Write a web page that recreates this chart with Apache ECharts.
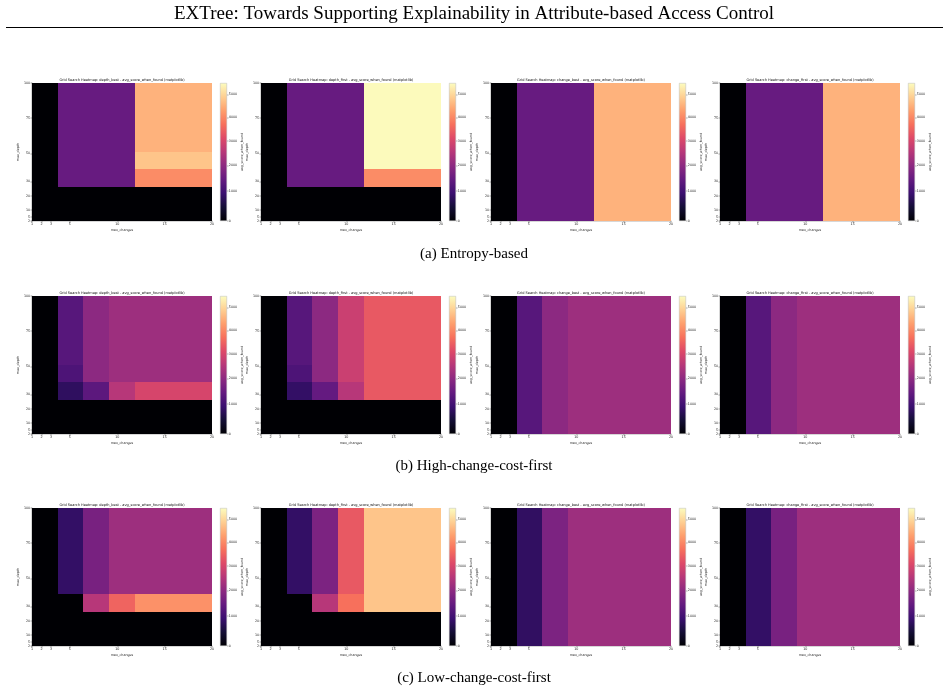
<!DOCTYPE html>
<html>
<head>
<meta charset="utf-8">
<script src="https://cdn.jsdelivr.net/npm/echarts@6/dist/echarts.min.js"></script>
<style>html,body{margin:0;padding:0;background:#fff}#main{width:948px;height:694px}</style>
</head>
<body>
<div id="main"></div>
<script>
var maxChanges = [1, 2, 3, 5, 10, 15, 20];
var maxDepths = [2, 5, 10, 20, 30, 50, 75, 100];
var colorTicks = [0, 1000, 2000, 3000, 4000, 5000];
var strategies = ['depth_best', 'depth_first', 'change_best', 'change_first'];
var captions = ['(a) Entropy-based', '(b) High-change-cost-first', '(c) Low-change-cost-first'];

// each grid: rows from max_depth=100 (top) down to 2 (bottom), columns follow maxChanges
var entropyDepthBest = [
  [0, 1480, 1480, 1480, 4530, 4530, 4530],
  [0, 1480, 1480, 1480, 4530, 4530, 4530],
  [0, 1480, 1480, 1480, 4530, 4530, 4530],
  [0, 1480, 1480, 1480, 4530, 4530, 4530],
  [0, 1480, 1480, 1480, 4770, 4770, 4770],
  [0, 1480, 1480, 1480, 4050, 4050, 4050],
  [0, 0, 0, 0, 0, 0, 0],
  [0, 0, 0, 0, 0, 0, 0]
];
var entropyDepthFirst = [
  [0, 1480, 1480, 1480, 5460, 5460, 5460],
  [0, 1480, 1480, 1480, 5460, 5460, 5460],
  [0, 1480, 1480, 1480, 5460, 5460, 5460],
  [0, 1480, 1480, 1480, 5460, 5460, 5460],
  [0, 1480, 1480, 1480, 5460, 5460, 5460],
  [0, 1480, 1480, 1480, 4050, 4050, 4050],
  [0, 0, 0, 0, 0, 0, 0],
  [0, 0, 0, 0, 0, 0, 0]
];
var entropyChangeBest = [
  [0, 1480, 1480, 1480, 4530, 4530, 4530],
  [0, 1480, 1480, 1480, 4530, 4530, 4530],
  [0, 1480, 1480, 1480, 4530, 4530, 4530],
  [0, 1480, 1480, 1480, 4530, 4530, 4530],
  [0, 1480, 1480, 1480, 4530, 4530, 4530],
  [0, 1480, 1480, 1480, 4530, 4530, 4530],
  [0, 1480, 1480, 1480, 4530, 4530, 4530],
  [0, 1480, 1480, 1480, 4530, 4530, 4530]
];
var entropyChangeFirst = [
  [0, 1480, 1480, 1480, 4530, 4530, 4530],
  [0, 1480, 1480, 1480, 4530, 4530, 4530],
  [0, 1480, 1480, 1480, 4530, 4530, 4530],
  [0, 1480, 1480, 1480, 4530, 4530, 4530],
  [0, 1480, 1480, 1480, 4530, 4530, 4530],
  [0, 1480, 1480, 1480, 4530, 4530, 4530],
  [0, 1480, 1480, 1480, 4530, 4530, 4530],
  [0, 1480, 1480, 1480, 4530, 4530, 4530]
];
var highDepthBest = [
  [0, 1280, 1990, 2210, 2210, 2210, 2210],
  [0, 1280, 1990, 2210, 2210, 2210, 2210],
  [0, 1280, 1990, 2210, 2210, 2210, 2210],
  [0, 1280, 1990, 2210, 2210, 2210, 2210],
  [0, 1150, 1990, 2210, 2210, 2210, 2210],
  [0, 770, 1340, 2550, 3000, 3000, 3000],
  [0, 0, 0, 0, 0, 0, 0],
  [0, 0, 0, 0, 0, 0, 0]
];
var highDepthFirst = [
  [0, 1280, 1990, 2830, 3350, 3350, 3350],
  [0, 1280, 1990, 2830, 3350, 3350, 3350],
  [0, 1280, 1990, 2830, 3350, 3350, 3350],
  [0, 1280, 1990, 2830, 3350, 3350, 3350],
  [0, 1150, 1990, 2830, 3350, 3350, 3350],
  [0, 820, 1440, 2550, 3350, 3350, 3350],
  [0, 0, 0, 0, 0, 0, 0],
  [0, 0, 0, 0, 0, 0, 0]
];
var highChangeBest = [
  [0, 1280, 1990, 2210, 2210, 2210, 2210],
  [0, 1280, 1990, 2210, 2210, 2210, 2210],
  [0, 1280, 1990, 2210, 2210, 2210, 2210],
  [0, 1280, 1990, 2210, 2210, 2210, 2210],
  [0, 1280, 1990, 2210, 2210, 2210, 2210],
  [0, 1280, 1990, 2210, 2210, 2210, 2210],
  [0, 1280, 1990, 2210, 2210, 2210, 2210],
  [0, 1280, 1990, 2210, 2210, 2210, 2210]
];
var highChangeFirst = [
  [0, 1280, 1990, 2210, 2210, 2210, 2210],
  [0, 1280, 1990, 2210, 2210, 2210, 2210],
  [0, 1280, 1990, 2210, 2210, 2210, 2210],
  [0, 1280, 1990, 2210, 2210, 2210, 2210],
  [0, 1280, 1990, 2210, 2210, 2210, 2210],
  [0, 1280, 1990, 2210, 2210, 2210, 2210],
  [0, 1280, 1990, 2210, 2210, 2210, 2210],
  [0, 1280, 1990, 2210, 2210, 2210, 2210]
];
var lowDepthBest = [
  [0, 820, 1710, 2210, 2210, 2210, 2210],
  [0, 820, 1710, 2210, 2210, 2210, 2210],
  [0, 820, 1710, 2210, 2210, 2210, 2210],
  [0, 820, 1710, 2210, 2210, 2210, 2210],
  [0, 820, 1710, 2210, 2210, 2210, 2210],
  [0, 0, 2550, 3520, 4110, 4110, 4110],
  [0, 0, 0, 0, 0, 0, 0],
  [0, 0, 0, 0, 0, 0, 0]
];
var lowDepthFirst = [
  [0, 820, 1770, 3350, 4770, 4770, 4770],
  [0, 820, 1770, 3350, 4770, 4770, 4770],
  [0, 820, 1770, 3350, 4770, 4770, 4770],
  [0, 820, 1770, 3350, 4770, 4770, 4770],
  [0, 820, 1770, 3350, 4770, 4770, 4770],
  [0, 0, 2550, 3700, 4770, 4770, 4770],
  [0, 0, 0, 0, 0, 0, 0],
  [0, 0, 0, 0, 0, 0, 0]
];
var lowChangeBest = [
  [0, 790, 1770, 2210, 2210, 2210, 2210],
  [0, 790, 1770, 2210, 2210, 2210, 2210],
  [0, 790, 1770, 2210, 2210, 2210, 2210],
  [0, 790, 1770, 2210, 2210, 2210, 2210],
  [0, 790, 1770, 2210, 2210, 2210, 2210],
  [0, 790, 1770, 2210, 2210, 2210, 2210],
  [0, 790, 1770, 2210, 2210, 2210, 2210],
  [0, 790, 1770, 2210, 2210, 2210, 2210]
];
var lowChangeFirst = [
  [0, 820, 1710, 2210, 2210, 2210, 2210],
  [0, 820, 1710, 2210, 2210, 2210, 2210],
  [0, 820, 1710, 2210, 2210, 2210, 2210],
  [0, 820, 1710, 2210, 2210, 2210, 2210],
  [0, 820, 1710, 2210, 2210, 2210, 2210],
  [0, 820, 1710, 2210, 2210, 2210, 2210],
  [0, 820, 1710, 2210, 2210, 2210, 2210],
  [0, 820, 1710, 2210, 2210, 2210, 2210]
];

var panels = [
  [entropyDepthBest, entropyDepthFirst, entropyChangeBest, entropyChangeFirst],
  [highDepthBest, highDepthFirst, highChangeBest, highChangeFirst],
  [lowDepthBest, lowDepthFirst, lowChangeBest, lowChangeFirst]
];

// magma colormap
var magma = ['#000004', '#140e36', '#3b0f70', '#641a80', '#8c2981', '#b73779',
  '#de4968', '#f7705c', '#fe9f6d', '#fecf92', '#fcfdbf'];

// power norm used by the colour bar
var vmax = 5500, gamma = 0.9;
function norm(v) { return Math.pow(v / vmax, gamma); }
function unnorm(t) { return Math.pow(t, 1 / gamma) * vmax; }

var rowTop = [83, 296, 508];
var colLeft = [32, 261, 491, 720];
var plotW = 180, plotH = 138;
var cbGap = 188, cbW = 7;
var mpl = 'DejaVu Sans';
var small = {fontFamily: mpl, fontSize: 3.3, color: '#222'};

// one cell of the image, snapped to whole pixels so neighbours meet without seams
function renderCell(params, api) {
  var p = api.coord([api.value(0), api.value(1)]);
  var s = api.size([1, 1]);
  var x0 = Math.round(p[0] - s[0] / 2), x1 = Math.round(p[0] + s[0] / 2);
  var y0 = Math.round(p[1] - s[1] / 2), y1 = Math.round(p[1] + s[1] / 2);
  return {type: 'rect', shape: {x: x0, y: y0, width: x1 - x0, height: y1 - y0},
    style: {fill: api.visual('color'), stroke: null}};
}

var grids = [], xAxes = [], yAxes = [], series = [], heatIdx = [], graphics = [];

panels.forEach(function (row, r) {
  row.forEach(function (grid, c) {
    var left = colLeft[c], top = rowTop[r];
    var g = grids.length;
    grids.push({left: left, top: top, width: plotW, height: plotH});
    var xc = xAxes.length;
    xAxes.push({type: 'category', gridIndex: g, show: false, data: maxChanges});
    xAxes.push({type: 'value', gridIndex: g, min: 1, max: 20, position: 'bottom',
      axisLine: {show: true, lineStyle: {color: '#333', width: 0.4}},
      axisTick: {show: true, length: 1.6, customValues: maxChanges, lineStyle: {color: '#333', width: 0.4}},
      axisLabel: {customValues: maxChanges, fontFamily: mpl, fontSize: 3.3, color: '#222', margin: 1.8},
      splitLine: {show: false},
      name: 'max_changes', nameLocation: 'middle', nameGap: 8, nameTextStyle: small});
    var yc = yAxes.length;
    yAxes.push({type: 'category', gridIndex: g, show: false, data: maxDepths});
    yAxes.push({type: 'value', gridIndex: g, min: 2, max: 100, position: 'left',
      axisLine: {show: true, lineStyle: {color: '#333', width: 0.4}},
      axisTick: {show: true, length: 1.6, customValues: maxDepths, lineStyle: {color: '#333', width: 0.4}},
      axisLabel: {customValues: maxDepths, fontFamily: mpl, fontSize: 3.3, color: '#222', margin: 1.8},
      splitLine: {show: false},
      name: 'max_depth', nameLocation: 'middle', nameGap: 7, nameTextStyle: small});

    var data = [];
    grid.forEach(function (vals, k) {
      var j = grid.length - 1 - k;
      vals.forEach(function (v, i) { data.push([i, j, norm(v)]); });
    });
    heatIdx.push(series.length);
    series.push({type: 'custom', xAxisIndex: xc, yAxisIndex: yc, data: data, silent: true,
      renderItem: renderCell, encode: {x: 0, y: 1}});

    // colour bar
    var gc = grids.length;
    grids.push({left: left + cbGap, top: top, width: cbW, height: plotH});
    var cx = xAxes.length;
    xAxes.push({type: 'category', gridIndex: gc, show: false, data: ['']});
    var cy = yAxes.length;
    yAxes.push({type: 'value', gridIndex: gc, min: 0, max: 1, position: 'right',
      axisLine: {show: false},
      axisTick: {show: true, length: 1.6, customValues: colorTicks.map(norm), lineStyle: {color: '#333', width: 0.4}},
      axisLabel: {customValues: colorTicks.map(norm), fontFamily: mpl, fontSize: 3.3, color: '#222', margin: 1.8,
        formatter: function (t) { return String(Math.round(unnorm(t) / 100) * 100); }},
      splitLine: {show: false},
      name: 'avg_score_when_found', nameLocation: 'middle', nameRotate: 90, nameGap: 9.5, nameTextStyle: small});
    series.push({type: 'bar', xAxisIndex: cx, yAxisIndex: cy, data: [1], barWidth: '100%', silent: true,
      itemStyle: {
        borderColor: '#bbb', borderWidth: 0.5,
        color: new echarts.graphic.LinearGradient(0, 1, 0, 0, magma.map(function (col, n) {
          return {offset: n / (magma.length - 1), color: col};
        }))
      }});

    graphics.push({type: 'text', silent: true, style: {
      x: left + plotW / 2, y: top - 3.2, text: 'Grid Search Heatmap: ' + strategies[c] + ' - avg_score_when_found (matplotlib)',
      fontFamily: mpl, fontSize: 3.5, fill: '#111', textAlign: 'center', textVerticalAlign: 'middle'}});
  });
  graphics.push({type: 'text', silent: true, style: {
    x: 474, y: [254, 466, 678][r], text: captions[r],
    fontFamily: 'Liberation Serif', fontSize: 15, fill: '#000', textAlign: 'center', textVerticalAlign: 'middle'}});
});

graphics.push({type: 'text', silent: true, style: {
  x: 474, y: 14, text: 'EXTree: Towards Supporting Explainability in Attribute-based Access Control',
  fontFamily: 'Liberation Serif', fontSize: 19, fill: '#000', textAlign: 'center', textVerticalAlign: 'middle'}});
graphics.push({type: 'line', silent: true, shape: {x1: 6, y1: 27.5, x2: 943, y2: 27.5},
  style: {stroke: '#000', lineWidth: 1.2}});

var myChart = echarts.init(document.getElementById('main'), null, {renderer: 'canvas'});
myChart.setOption({
  backgroundColor: '#fff',
  animation: false,
  grid: grids,
  xAxis: xAxes,
  yAxis: yAxes,
  visualMap: {type: 'continuous', show: false, min: 0, max: 1, dimension: 2,
    seriesIndex: heatIdx, inRange: {color: magma}},
  series: series,
  graphic: graphics
});
</script>
</body>
</html>
